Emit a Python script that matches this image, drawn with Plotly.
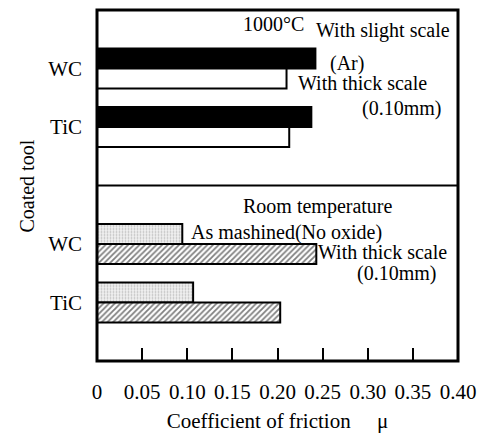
import plotly.graph_objects as go

tools = ["WC", "TiC"]
hot_slight = [0.242, 0.2375]      # 1000°C, with slight scale (Ar)
hot_thick = [0.210, 0.213]        # 1000°C, with thick scale (0.10mm)
room_none = [0.0945, 0.1065]      # Room temperature, as machined (no oxide)
room_thick = [0.243, 0.203]       # Room temperature, with thick scale (0.10mm)
xtick_vals = [0, 0.05, 0.10, 0.15, 0.20, 0.25, 0.30, 0.35, 0.40]
xtick_text = ["0", "0.05", "0.10", "0.15", "0.20", "0.25", "0.30", "0.35", "0.40"]

FONT = "Liberation Serif"
W, H = 486, 439
L, R, T, B = 97, 25, 10, 66
PW, PH = W - L - R, H - T - B

def px(x):
    return (x - L) / PW

def py(y):
    return (H - B - y) / PH

fig = go.Figure()
line = dict(color="black", width=2)
fig.add_trace(go.Bar(y=tools, x=hot_slight, orientation="h", xaxis="x", yaxis="y",
                     marker=dict(color="black", line=line), showlegend=False))
fig.add_trace(go.Bar(y=tools, x=hot_thick, orientation="h", xaxis="x", yaxis="y",
                     marker=dict(color="white", line=line), showlegend=False))
fig.add_trace(go.Bar(y=tools, x=room_none, orientation="h", xaxis="x2", yaxis="y2",
                     marker=dict(color="white", line=line,
                                 pattern=dict(shape=".", fgcolor="#888", bgcolor="#f2f2f2",
                                              size=3, solidity=0.3)),
                     showlegend=False))
fig.add_trace(go.Bar(y=tools, x=room_thick, orientation="h", xaxis="x2", yaxis="y2",
                     marker=dict(color="white", line=line,
                                 pattern=dict(shape="/", fgcolor="black", bgcolor="white",
                                              size=4, solidity=0.45)),
                     showlegend=False))

xcommon = dict(range=[0, 0.40], showgrid=False, zeroline=False, showline=False)
fig.update_layout(
    width=W, height=H,
    margin=dict(l=L, r=R, t=T, b=B),
    plot_bgcolor="white", paper_bgcolor="white",
    barmode="group", bargap=0.32, bargroupgap=0,
    font=dict(family=FONT, size=20, color="black"),
    xaxis=dict(**xcommon, anchor="y", showticklabels=False, ticks=""),
    xaxis2=dict(**xcommon, anchor="y2", tickvals=xtick_vals, ticktext=xtick_text,
                ticks="inside", ticklen=13, tickwidth=2, tickcolor="black",
                ticklabelstandoff=16, tickfont=dict(family=FONT, size=21),
                title=dict(text="Coefficient of friction\u2003 \u03bc", standoff=10,
                           font=dict(family=FONT, size=21))),
    yaxis=dict(domain=[0.5, 1], range=[2, -1], type="category", anchor="x",
               showgrid=False, zeroline=False, ticks="", ticklabelstandoff=14,
               tickfont=dict(family=FONT, size=21)),
    yaxis2=dict(domain=[0, 0.5], range=[2, -1], type="category", anchor="x2",
                showgrid=False, zeroline=False, ticks="", ticklabelstandoff=14,
                tickfont=dict(family=FONT, size=21)),
)

# frame and divider
fig.add_shape(type="rect", xref="paper", yref="paper", x0=0, x1=1, y0=0, y1=1,
              line=dict(color="black", width=3), layer="above")
fig.add_shape(type="line", xref="paper", yref="paper", x0=0, x1=1, y0=0.5, y1=0.5,
              line=dict(color="black", width=2), layer="above")

ann = [
    ("1000°C", 242, 24),
    ("With slight scale", 316, 31),
    ("(Ar)", 330, 65),
    ("With thick scale", 298, 86),
    ("(0.10mm)", 362, 112),
    ("Room temperature", 242, 213),
    ("As mashined(No oxide)", 190, 240),
    ("With thick scale", 318, 260),
    ("(0.10mm)", 357, 283),
]
for text, x, y in ann:
    fig.add_annotation(text=text, xref="paper", yref="paper", x=px(x), y=py(y),
                       xanchor="left", yanchor="middle", showarrow=False,
                       font=dict(family=FONT, size=20, color="black"))

fig.add_annotation(text="Coated tool", xref="paper", yref="paper",
                   x=px(26), y=py(192), xanchor="center", yanchor="middle",
                   textangle=-90, showarrow=False,
                   font=dict(family=FONT, size=20, color="black"))

fig.write_html("out.html")
